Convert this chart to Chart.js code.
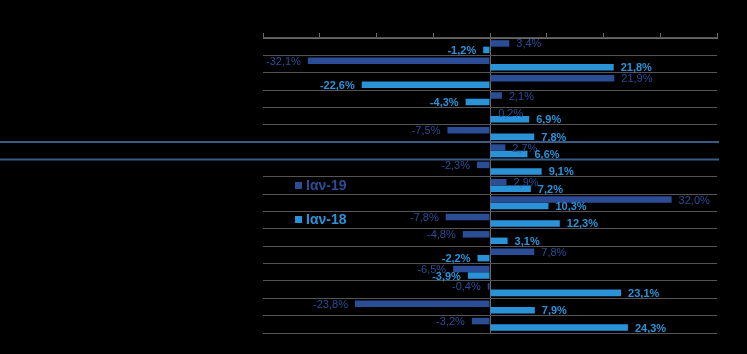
<!DOCTYPE html>
<html>
<head>
<meta charset="utf-8">
<script src="https://cdn.jsdelivr.net/npm/chart.js@4"></script>
<style>
  html, body { margin: 0; padding: 0; background: #000; }
  #wrap { position: relative; width: 747px; height: 354px; }
  .leg { position: absolute; font: bold 14px Arial, "Liberation Sans", sans-serif; }
  .leg span { display: inline-block; width: 7px; height: 7px; margin-right: 4px; vertical-align: 1px; }
</style>
</head>
<body>
<div id="wrap">
  <canvas id="chart1" width="747" height="354"></canvas>
  <div class="leg" style="left:295px; top:177px; color:#2a4d96;"><span style="background:#2a4d96"></span>Ιαν-19</div>
  <div class="leg" style="left:295px; top:211px; color:#2a93d8;"><span style="background:#2a93d8"></span>Ιαν-18</div>
</div>
<script>
const categories = ['', '', '', '', '', '', '', '', '', '', '', '', '', '', '', '', ''];
const jan19 = [3.4, -32.1, 21.9, 2.1, 0.2, -7.5, 2.7, -2.3, 2.9, 32.0, -7.8, -4.8, 7.8, -6.5, -0.4, -23.8, -3.2];
const jan18 = [-1.2, 21.8, -22.6, -4.3, 6.9, 7.8, 6.6, 9.1, 7.2, 10.3, 12.3, 3.1, -2.2, -3.9, 23.1, 7.9, 24.3];
const xTicks = [-40, -30, -20, -10, 0, 10, 20, 30, 40];

const darkBlue = '#2a4d96';
const lightBlue = '#2a93d8';

// value labels at the end of each bar
const barLabels = {
    id: 'barLabels',
    afterDatasetsDraw(chart) {
        const ctx = chart.ctx;
        ctx.save();
        ctx.textBaseline = 'middle';
        chart.data.datasets.forEach((ds, i) => {
            const meta = chart.getDatasetMeta(i);
            ctx.fillStyle = ds.backgroundColor;
            ctx.font = (i === 1 ? 'bold ' : '') + '11px Arial, "Liberation Sans", sans-serif';
            meta.data.forEach((bar, j) => {
                const v = ds.data[j];
                const txt = v.toFixed(1).replace('.', ',') + '%';
                if (v >= 0) {
                    ctx.textAlign = 'left';
                    ctx.fillText(txt, bar.x + 7, bar.y + 1);
                } else {
                    ctx.textAlign = 'right';
                    ctx.fillText(txt, bar.x - 7, bar.y + 1);
                }
            });
        });
        ctx.restore();
    }
};

// the two blue separator lines around the 7th row
const blueRows = {
    id: 'blueRows',
    afterDraw(chart) {
        const y = chart.scales.y;
        const half = (y.getPixelForValue(1) - y.getPixelForValue(0)) / 2;
        const ctx = chart.ctx;
        ctx.save();
        ctx.strokeStyle = '#3b5b84';
        ctx.lineWidth = 2;
        [y.getPixelForValue(6) - half, y.getPixelForValue(6) + half].forEach((py) => {
            ctx.beginPath();
            ctx.moveTo(0, py);
            ctx.lineTo(chart.chartArea.right + 2, py);
            ctx.stroke();
        });
        ctx.restore();
    }
};

new Chart(document.getElementById('chart1').getContext('2d'), {
    type: 'bar',
    data: {
        labels: categories,
        datasets: [
            { label: 'Ιαν-19', data: jan19, backgroundColor: darkBlue },
            { label: 'Ιαν-18', data: jan18, backgroundColor: lightBlue }
        ]
    },
    options: {
        indexAxis: 'y',
        responsive: false,
        animation: false,
        barPercentage: 1,
        categoryPercentage: 0.75,
        layout: { padding: { left: 263, right: 30, top: 33, bottom: 21 } },
        plugins: {
            legend: { display: false },
            tooltip: { enabled: false }
        },
        scales: {
            x: {
                position: 'top',
                min: -40,
                max: 40,
                afterBuildTicks: (axis) => { axis.ticks = xTicks.map((v) => ({ value: v })); },
                ticks: { display: false },
                grid: {
                    color: (c) => (c.tick && c.tick.value === 0 ? '#6a6a6a' : 'transparent'),
                    tickColor: '#6a6a6a',
                    tickLength: 5,
                    drawTicks: true
                },
                border: { display: true, color: '#6a6a6a' }
            },
            y: {
                ticks: { display: false },
                grid: { color: '#555', drawTicks: false },
                border: { display: false }
            }
        }
    },
    plugins: [barLabels, blueRows]
});
</script>
</body>
</html>
